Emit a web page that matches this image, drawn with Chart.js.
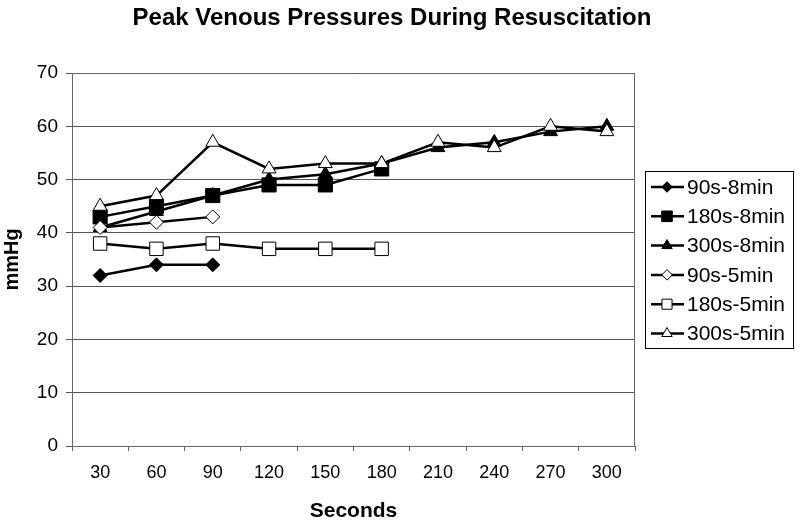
<!DOCTYPE html>
<html>
<head>
<meta charset="utf-8">
<script src="https://cdn.jsdelivr.net/npm/chart.js@4/dist/chart.umd.min.js"></script>
<style>
  html, body { margin: 0; padding: 0; background: #fff; }
  #wrap { width: 800px; height: 524px; }
</style>
</head>
<body>
<div id="wrap"><canvas id="chart" width="800" height="524"></canvas></div>
<script>
// data
const seconds = ["30", "60", "90", "120", "150", "180", "210", "240", "270", "300"];
const s90_8 = [32, 34, 34];
const s180_8 = [43, 45, 47, 49, 49, 52];
const s300_8 = [41, 44, 47, 50, 51, 53, 56, 57, 59, 60];
const s90_5 = [41, 42, 43];
const s180_5 = [38, 37, 38, 37, 37, 37];
const s300_5 = [45, 47, 57, 52, 53, 53, 57, 56, 60, 59];
const yTicks = [0, 10, 20, 30, 40, 50, 60, 70];

const names = ["90s-8min", "180s-8min", "300s-8min", "90s-5min", "180s-5min", "300s-5min"];
const values = [s90_8, s180_8, s300_8, s90_5, s180_5, s300_5];
const shapes = ["rectRot", "rect", "triangle", "rectRot", "rect", "triangle"];
const radii = [7, 10, 8, 7, 9.5, 8];
const filled = [true, true, true, false, false, false];

const datasets = names.map((n, i) => ({
    label: n,
    data: values[i],
    borderColor: "#000",
    borderWidth: 2.5,
    pointStyle: shapes[i],
    pointRadius: radii[i],
    pointHoverRadius: radii[i],
    pointBackgroundColor: filled[i] ? "#000" : "#fff",
    pointBorderColor: "#000",
    pointBorderWidth: 1,
    tension: 0,
    order: 6 - i
}));

// titre + légende dessinés à la main
const decor = {
    id: "decor",
    afterDraw(chart) {
        const ctx = chart.ctx;
        ctx.save();
        ctx.fillStyle = "#000";
        ctx.font = "bold 24px Arial, 'Liberation Sans', sans-serif";
        ctx.textAlign = "center";
        ctx.textBaseline = "middle";
        ctx.fillText("Peak Venous Pressures During Resuscitation", 392, 18);

        // cadre du graphique
        const a = chart.chartArea;
        ctx.strokeStyle = "#666";
        ctx.lineWidth = 1;
        ctx.beginPath();
        ctx.moveTo(a.left, a.top + 0.5);
        ctx.lineTo(a.right - 0.5, a.top + 0.5);
        ctx.lineTo(a.right - 0.5, a.bottom);
        ctx.stroke();

        // légende
        const lx = 645, ly = 171, lw = 148, lh = 177;
        ctx.fillStyle = "#fff";
        ctx.fillRect(lx, ly, lw, lh);
        ctx.strokeStyle = "#000";
        ctx.strokeRect(lx + 0.5, ly + 0.5, lw, lh);
        ctx.font = "21px Arial, 'Liberation Sans', sans-serif";
        ctx.textAlign = "left";
        names.forEach((n, i) => {
            const y = ly + 16 + i * 29.3;
            ctx.strokeStyle = "#000";
            ctx.lineWidth = 2.5;
            ctx.beginPath();
            ctx.moveTo(651, y);
            ctx.lineTo(684, y);
            ctx.stroke();
            ctx.lineWidth = 1;
            ctx.fillStyle = filled[i] ? "#000" : "#fff";
            Chart.helpers.drawPoint(ctx, {
                pointStyle: shapes[i],
                radius: radii[i] * 0.75,
                rotation: 0,
                borderWidth: 1
            }, 667, y);
            ctx.fillStyle = "#000";
            ctx.fillText(n, 687, y + 1);
        });
        ctx.restore();
    }
};

new Chart(document.getElementById("chart"), {
    type: "line",
    data: { labels: seconds, datasets: datasets },
    options: {
        responsive: false,
        animation: false,
        layout: { padding: { top: 73, right: 165, left: 0, bottom: 0 } },
        plugins: {
            legend: { display: false },
            title: { display: false },
            tooltip: { enabled: false }
        },
        scales: {
            x: {
                offset: true,
                grid: {
                    offset: true,
                    drawOnChartArea: false,
                    tickLength: 5,
                    color: "#666"
                },
                border: { color: "#666", width: 1 },
                ticks: {
                    color: "#000",
                    font: { family: "Arial", size: 18 },
                    padding: 11,
                    maxRotation: 0
                },
                title: {
                    display: true,
                    text: "Seconds",
                    color: "#000",
                    font: { family: "Arial", size: 21, weight: "bold" },
                    padding: { top: 5, bottom: 0 }
                },
                afterFit(s) { s.height = 78; }
            },
            y: {
                min: 0,
                max: 70,
                afterBuildTicks(s) { s.ticks = yTicks.map(v => ({ value: v })); },
                grid: { color: "#555", tickLength: 6 },
                border: { color: "#666", width: 1 },
                ticks: {
                    color: "#000",
                    font: { family: "Arial", size: 19 },
                    padding: 8
                },
                title: {
                    display: true,
                    text: "mmHg",
                    color: "#000",
                    font: { family: "Arial", size: 20, weight: "bold" },
                    padding: { top: 0, bottom: 4 }
                },
                afterFit(s) { s.width = 72; }
            }
        }
    },
    plugins: [decor]
});
</script>
</body>
</html>
